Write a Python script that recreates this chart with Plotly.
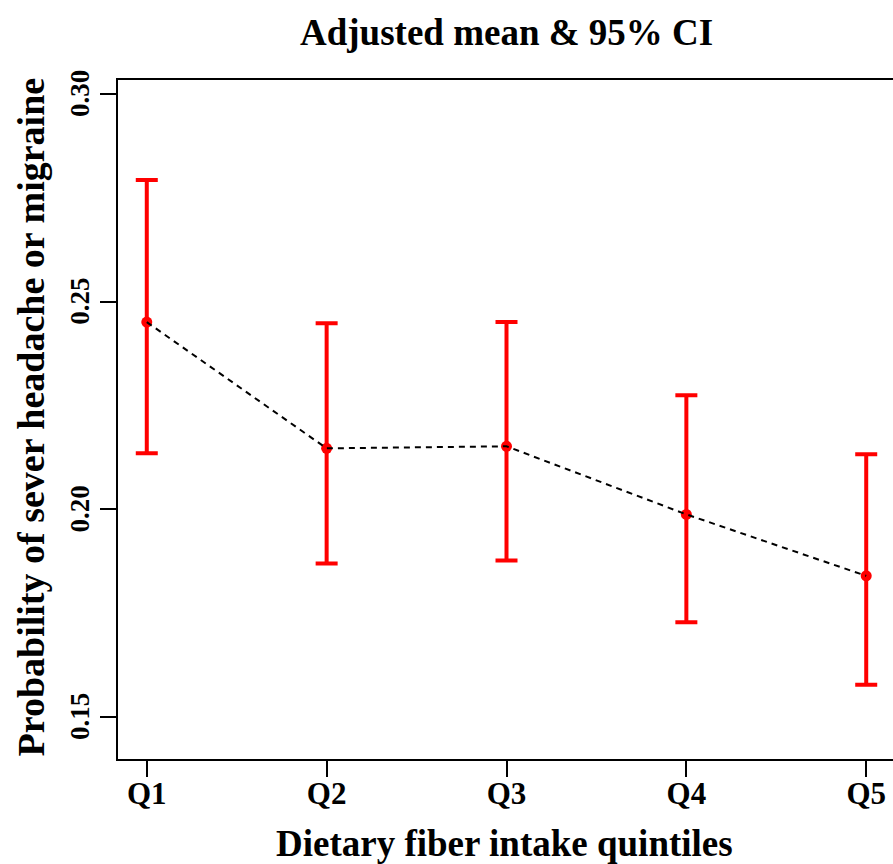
import plotly.graph_objects as go

quintiles = ["Q1", "Q2", "Q3", "Q4", "Q5"]
means = [0.2451, 0.2147, 0.2152, 0.1988, 0.1840]
upper = [0.2793, 0.2448, 0.2451, 0.2275, 0.2133]
lower = [0.2135, 0.1870, 0.1877, 0.1728, 0.1578]
y_ticks = [0.15, 0.20, 0.25, 0.30]
y_tick_labels = ["0.15", "0.20", "0.25", "0.30"]

err_plus = [u - m for u, m in zip(upper, means)]
err_minus = [m - l for m, l in zip(means, lower)]

FONT = "Liberation Serif"

fig = go.Figure()
fig.add_trace(go.Scatter(
    x=quintiles, y=means, mode="markers",
    marker=dict(color="#ff0000", size=11),
    error_y=dict(type="data", symmetric=False, array=err_plus, arrayminus=err_minus,
                 color="#ff0000", thickness=4, width=11),
    showlegend=False, hoverinfo="skip"))
fig.add_trace(go.Scatter(
    x=quintiles, y=means, mode="lines",
    line=dict(color="black", width=2, dash="6px,5px"),
    showlegend=False, hoverinfo="skip"))

annotations = [
    dict(text="<b>Adjusted mean &amp; 95% CI</b>", xref="paper", yref="paper",
         x=(507 - 118) / 779, y=1, yshift=80 - 32, showarrow=False,
         xanchor="center", yanchor="middle", font=dict(family=FONT, size=37)),
    dict(text="<b>Dietary fiber intake quintiles</b>", xref="paper", yref="paper",
         x=(505 - 118) / 779, y=0, yshift=-(843 - 759), showarrow=False,
         xanchor="center", yanchor="middle", font=dict(family=FONT, size=37)),
    dict(text="<b>Probability of sever headache or migraine</b>", xref="paper", yref="paper",
         x=0, xshift=30 - 118, y=0.5, yshift=2, showarrow=False, textangle=-90,
         xanchor="center", yanchor="middle", font=dict(family=FONT, size=38)),
]
for v, t in zip(y_ticks, y_tick_labels):
    annotations.append(dict(text="<b>" + t + "</b>", xref="paper", yref="y",
                            x=0, xshift=-38, y=v, showarrow=False, textangle=-90,
                            xanchor="center", yanchor="middle",
                            font=dict(family=FONT, size=27, color="black")))

fig.update_layout(
    width=897, height=864,
    margin=dict(l=118, r=0, t=80, b=105),
    paper_bgcolor="white", plot_bgcolor="white",
    font=dict(family=FONT, color="black"),
    xaxis=dict(type="category", range=[-0.16, 4.16], showgrid=False, zeroline=False,
               showline=True, mirror=True, linecolor="black", linewidth=2,
               ticks="outside", ticklen=16, tickwidth=2, tickcolor="black",
               ticklabelstandoff=-10,
               tickfont=dict(family=FONT, size=31, color="black", weight="bold")),
    yaxis=dict(range=[0.1399, 0.3034], showgrid=False, zeroline=False,
               showline=True, mirror=True, linecolor="black", linewidth=2,
               ticks="outside", ticklen=16, tickwidth=2, tickcolor="black",
               tickmode="array", tickvals=y_ticks, showticklabels=False),
    annotations=annotations,
)

fig.write_html("out.html", config={"displayModeBar": False},
               post_script="document.body.style.margin='0';document.body.style.overflow='hidden';")
